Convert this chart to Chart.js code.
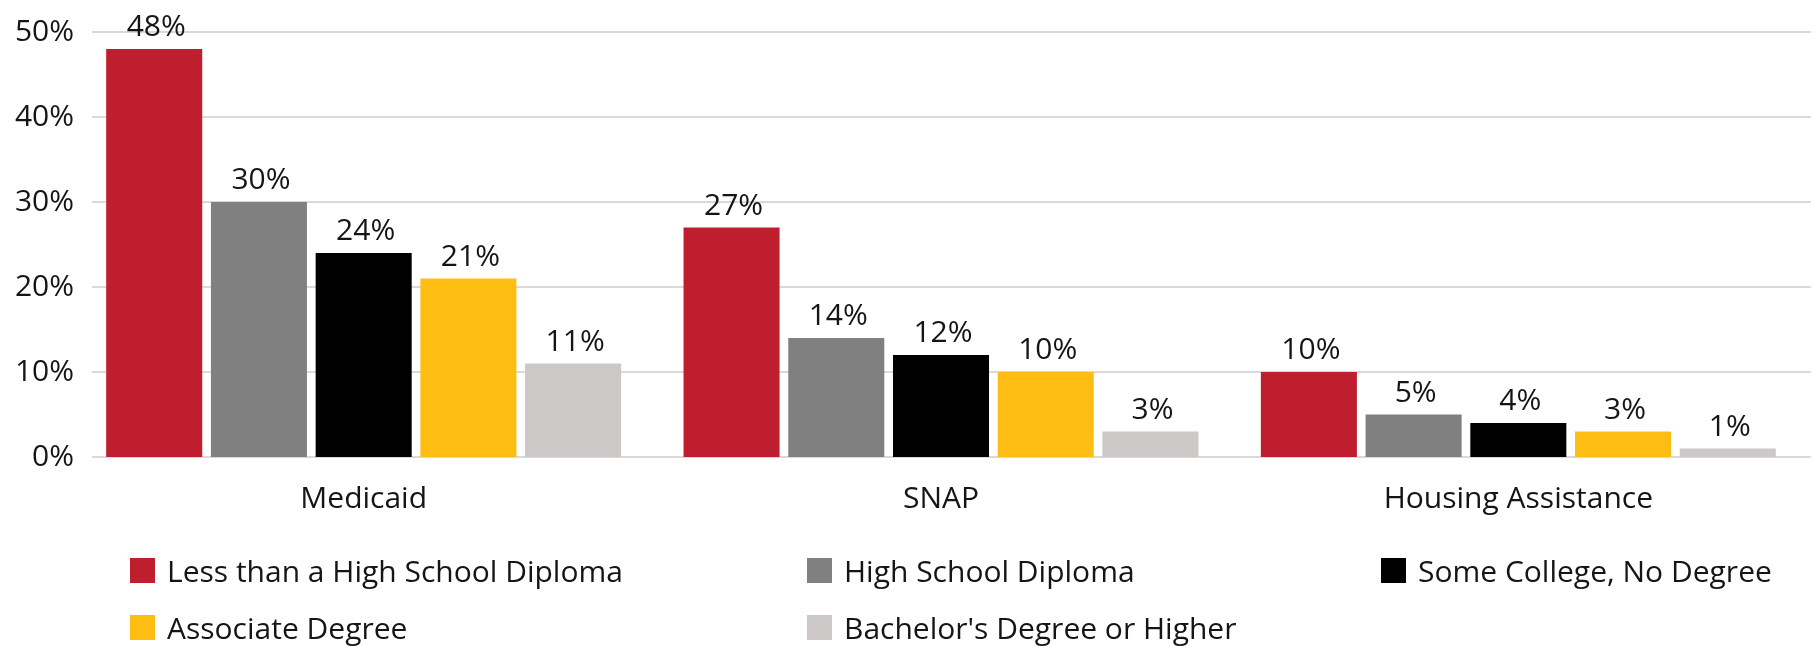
<!DOCTYPE html>
<html>
<head>
<meta charset="utf-8">
<script src="https://cdn.jsdelivr.net/npm/chart.js@4/dist/chart.umd.min.js"></script>
<style>
  body { margin: 0; background: #fff; font-family: 'Open Sans', sans-serif; }
  #wrap { position: absolute; left: 0; top: 0; width: 1814px; height: 540px; }
  #legend { position: absolute; left: 0; top: 0; width: 1814px; height: 647px; pointer-events: none; }
  .item { position: absolute; display: flex; align-items: center; height: 25px; font-size: 30px; color: #151515; white-space: nowrap; }
  .box { width: 25px; height: 25px; margin-right: 12px; flex: none; }
</style>
</head>
<body>
<div id="wrap"><canvas id="myChart"></canvas></div>
<div id="legend"></div>
<script>
  // DATA
  const programs = ['Medicaid', 'SNAP', 'Housing Assistance'];
  const lessThanHS = [48, 27, 10];
  const highSchool = [30, 14, 5];
  const someCollege = [24, 12, 4];
  const associate = [21, 10, 3];
  const bachelors = [11, 3, 1];
  const yTicks = [0, 10, 20, 30, 40, 50];

  const seriesNames = ['Less than a High School Diploma', 'High School Diploma', 'Some College, No Degree', 'Associate Degree', "Bachelor's Degree or Higher"];
  const colors = ['#be1e2d', '#808080', '#000000', '#fdbd13', '#cbc8c7'];
  const seriesData = [lessThanHS, highSchool, someCollege, associate, bachelors];

  // legend slots (box left, box top) - 3 columns like the original
  const legendSlots = [[130, 558], [807, 558], [1381, 558], [130, 615], [807, 615]];

  const FONT = { size: 30, family: 'Open Sans' };

  const data = {
    labels: programs,
    datasets: seriesNames.map((name, i) => ({
      label: name,
      data: seriesData[i],
      backgroundColor: colors[i],
      categoryPercentage: 0.907,
      barPercentage: 0.917
    }))
  };

  // horizontal grid lines, start a bit right of the plot edge like the original
  const gridLines = {
    id: 'gridLines',
    beforeDatasetsDraw(chart) {
      const ctx = chart.ctx;
      const y = chart.scales.y;
      ctx.save();
      ctx.strokeStyle = '#dcd8d6';
      ctx.lineWidth = 2;
      yTicks.forEach(v => {
        const py = Math.round(y.getPixelForValue(v));
        ctx.beginPath();
        ctx.moveTo(92, py);
        ctx.lineTo(1811, py);
        ctx.stroke();
      });
      ctx.restore();
    }
  };

  // draws the % labels on top of each bar
  const valueLabels = {
    id: 'valueLabels',
    afterDatasetsDraw(chart) {
      const ctx = chart.ctx;
      ctx.save();
      ctx.font = '30px "Open Sans"';
      ctx.fillStyle = '#151515';
      ctx.textAlign = 'center';
      ctx.textBaseline = 'alphabetic';
      chart.data.datasets.forEach((ds, i) => {
        chart.getDatasetMeta(i).data.forEach((bar, j) => {
          ctx.fillText(ds.data[j] + '%', bar.x + 2, bar.y - 13);
        });
      });
      ctx.restore();
    }
  };

  const config = {
    type: 'bar',
    data,
    options: {
      responsive: true,
      maintainAspectRatio: false,
      animation: false,
      layout: { padding: { top: 32, right: 7, left: 0, bottom: 0 } },
      plugins: {
        legend: { display: false },
        tooltip: { enabled: false }
      },
      scales: {
        x: {
          grid: { display: false, drawTicks: false },
          border: { display: false },
          ticks: { color: '#151515', font: FONT, padding: 24 },
          afterFit(scale) { scale.height = 83; }
        },
        y: {
          min: 0,
          max: 50,
          afterBuildTicks(scale) { scale.ticks = yTicks.map(v => ({ value: v })); },
          grid: { display: false, drawTicks: false },
          border: { display: false },
          ticks: {
            color: '#151515',
            font: FONT,
            padding: 1,
            callback: v => v + '%'
          },
          afterFit(scale) { scale.width = 75; }
        }
      }
    },
    plugins: [gridLines, valueLabels]
  };

  var myChart = new Chart(document.getElementById('myChart'), config);

  // HTML legend in 3 columns
  const legend = document.getElementById('legend');
  seriesNames.forEach((name, i) => {
    const el = document.createElement('div');
    el.className = 'item';
    el.style.left = legendSlots[i][0] + 'px';
    el.style.top = legendSlots[i][1] + 'px';
    el.innerHTML = '<span class="box" style="background:' + colors[i] + '"></span>' + name;
    legend.appendChild(el);
  });
</script>
</body>
</html>
